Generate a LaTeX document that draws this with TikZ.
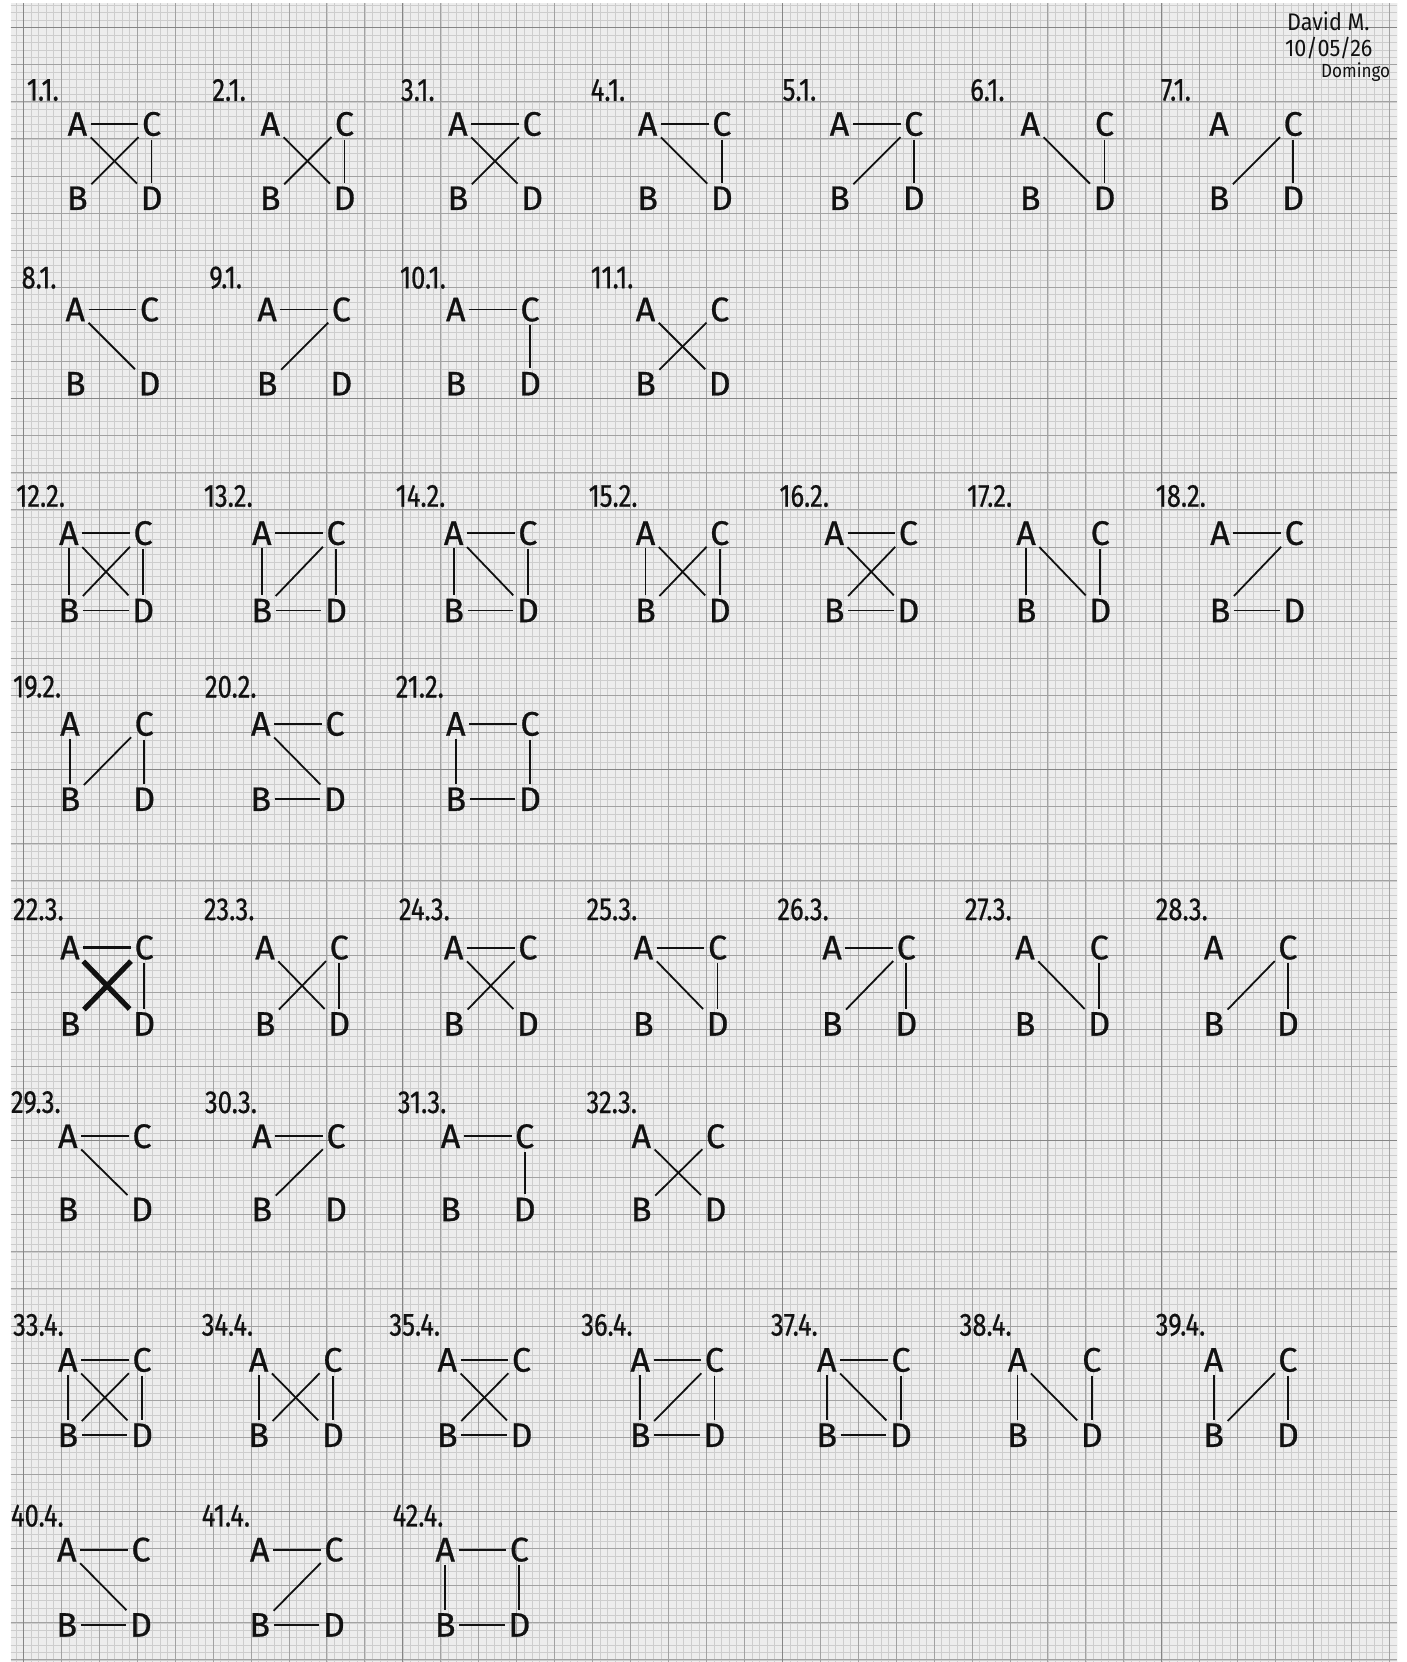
\documentclass[tikz,border=0pt]{standalone}
\usepackage{fontspec}
\setmainfont{Fira Sans}
\newfontfamily\lblfont[FakeStretch=0.8,FakeBold=0.6]{Fira Sans}
\newfontfamily\vtxfont[FakeBold=0.8]{Fira Sans}
\newfontfamily\sigfont[FakeStretch=0.9]{Fira Sans}
\definecolor{paper}{HTML}{EDEDED}
\definecolor{gminor}{HTML}{CDCDCD}
\definecolor{gmajor}{HTML}{A2A2A2}
\definecolor{gten}{HTML}{858585}
\definecolor{ink}{HTML}{111111}
\tikzset{
  vtx/.style={inner sep=1.6pt, text=ink, font=\vtxfont\fontsize{17}{17}\selectfont},
  lbl/.style={inner sep=0pt, anchor=west, text=ink, font=\lblfont\fontsize{16}{16}\selectfont},
  edge/.style={draw=ink, line width=0.9pt},
  boldedge/.style={draw=ink, line width=2.6pt},
  sig/.style={inner sep=0pt, anchor=west, text=ink, font=\sigfont\fontsize{12}{12}\selectfont},
}
\newcommand{\gph}[8]{%
  \node[lbl] (#1L) at (#3,#5) {#2};
  \node[vtx] (#1A) at (#4,#6) {A};
  \node[vtx] (#1C) at (#4+70,#6) {C};
  \node[vtx] (#1B) at (#4,#7) {B};
  \node[vtx] (#1D) at (#4+70,#7) {D};
  \foreach \u/\v in {#8} {\draw[edge] (#1\u) -- (#1\v);}
}
\begin{document}
\begin{tikzpicture}[x=0.53015pt,y=-0.53015pt]
\useasboundingbox (0,0) rectangle (1327,1568);
\fill[white] (0,0) rectangle (1327,1568);
\fill[paper] (10,3) rectangle (1318,1568);
\begin{scope}
  \clip (10,3) rectangle (1318,1568);
  \foreach \k in {-2,...,181} {\draw[gminor, line width=0.22pt] ({22+7.16*\k},3) -- ({22+7.16*\k},1568);}
  \foreach \k in {-3,...,220} {\draw[gminor, line width=0.22pt] (10,{26+7.0*\k}) -- (1318,{26+7.0*\k});}
  \foreach \k in {0,...,36} {\draw[gmajor, line width=0.42pt] ({22+35.8*\k},3) -- ({22+35.8*\k},1568);}
  \foreach \k in {0,...,44} {\draw[gmajor, line width=0.42pt] (10,{26+35*\k}) -- (1318,{26+35*\k});}
  \foreach \k in {0,...,3} {\draw[gten, line width=0.6pt] ({22+358*\k},3) -- ({22+358*\k},1568);}
  \foreach \k in {0,...,4} {\draw[gten, line width=0.55pt] (10,{26+350*\k}) -- (1318,{26+350*\k});}
\end{scope}
% signature
\node[sig] (sig1) at (1214,20) {David M.};
\node[sig] (sig2) at (1212,45) {10/05/26};
\node[sig, font=\sigfont\fontsize{9.5}{9.5}\selectfont] (sig3) at (1246,68) {Domingo};
% row 1
\gph{g1}{1.1.}{25}{73}{85}{117}{187}{A/C,A/D,B/C,C/D}
\gph{g2}{2.1.}{200}{255}{85}{117}{187}{A/D,B/C,C/D}
\gph{g3}{3.1.}{378}{432}{85}{117}{187}{A/C,A/D,B/C}
\gph{g4}{4.1.}{557}{611}{85}{117}{187}{A/C,A/D,C/D}
\gph{g5}{5.1.}{738}{792}{85}{117}{187}{A/C,B/C,C/D}
\gph{g6}{6.1.}{915}{972}{85}{117}{187}{A/D,C/D}
\gph{g7}{7.1.}{1095}{1150}{85}{117}{187}{B/C,C/D}
% row 2
\gph{g8}{8.1.}{20}{71}{262}{292}{362}{A/C,A/D}
\gph{g9}{9.1.}{197}{252}{262}{292}{362}{A/C,B/C}
\gph{g10}{10.1.}{377}{430}{262}{292}{362}{A/C,C/D}
\gph{g11}{11.1.}{557}{609}{262}{292}{362}{A/D,B/C}
% row 3
\gph{g12}{12.2.}{15}{65}{468}{503}{576}{A/C,A/B,A/D,B/C,C/D,B/D}
\gph{g13}{13.2.}{192}{247}{468}{503}{576}{A/C,A/B,B/C,C/D,B/D}
\gph{g14}{14.2.}{373}{428}{468}{503}{576}{A/C,A/B,A/D,C/D,B/D}
\gph{g15}{15.2.}{555}{609}{468}{503}{576}{A/B,A/D,B/C,C/D}
\gph{g16}{16.2.}{735}{787}{468}{503}{576}{A/C,A/D,B/C,B/D}
\gph{g17}{17.2.}{912}{968}{468}{503}{576}{A/B,A/D,C/D}
\gph{g18}{18.2.}{1090}{1151}{468}{503}{576}{A/C,B/C,B/D}
% row 4
\gph{g19}{19.2.}{12}{66}{648}{683}{754}{A/B,B/C,C/D}
\gph{g20}{20.2.}{193}{246}{648}{683}{754}{A/C,A/D,B/D}
\gph{g21}{21.2.}{373}{430}{648}{683}{754}{A/C,A/B,C/D,B/D}
% row 5
\gph{g22}{22.3.}{12}{66}{858}{894}{966}{C/D}
\draw[boldedge, line width=1.8pt] (g22A) -- (g22C);
\draw[boldedge] (g22A) -- (g22D);
\draw[boldedge] (g22B) -- (g22C);
\gph{g23}{23.3.}{192}{250}{858}{894}{966}{A/D,B/C,C/D}
\gph{g24}{24.3.}{376}{428}{858}{894}{966}{A/C,A/D,B/C}
\gph{g25}{25.3.}{553}{607}{858}{894}{966}{A/C,A/D,C/D}
\gph{g26}{26.3.}{733}{785}{858}{894}{966}{A/C,B/C,C/D}
\gph{g27}{27.3.}{910}{967}{858}{894}{966}{A/D,C/D}
\gph{g28}{28.3.}{1090}{1145}{858}{894}{966}{B/C,C/D}
% row 6
\gph{g29}{29.3.}{10}{64}{1040}{1072}{1141}{A/C,A/D}
\gph{g30}{30.3.}{193}{247}{1040}{1072}{1141}{A/C,B/C}
\gph{g31}{31.3.}{375}{425}{1040}{1072}{1141}{A/C,C/D}
\gph{g32}{32.3.}{553}{605}{1040}{1072}{1141}{A/D,B/C}
% row 7
\gph{g33}{33.4.}{12}{64}{1250}{1283}{1354}{A/C,A/B,A/D,B/C,C/D,B/D}
\gph{g34}{34.4.}{190}{244}{1250}{1283}{1354}{A/B,A/D,B/C,C/D}
\gph{g35}{35.4.}{367}{422}{1250}{1283}{1354}{A/C,A/D,B/C,B/D}
\gph{g36}{36.4.}{548}{604}{1250}{1283}{1354}{A/C,A/B,B/C,C/D,B/D}
\gph{g37}{37.4.}{727}{780}{1250}{1283}{1354}{A/C,A/B,A/D,C/D,B/D}
\gph{g38}{38.4.}{905}{960}{1250}{1283}{1354}{A/B,A/D,C/D}
\gph{g39}{39.4.}{1090}{1145}{1250}{1283}{1354}{A/B,B/C,C/D}
% row 8
\gph{g40}{40.4.}{10}{63}{1430}{1462}{1533}{A/C,A/D,B/D}
\gph{g41}{41.4.}{190}{245}{1430}{1462}{1533}{A/C,B/C,B/D}
\gph{g42}{42.4.}{370}{420}{1430}{1462}{1533}{A/C,A/B,C/D,B/D}
\end{tikzpicture}
\end{document}
